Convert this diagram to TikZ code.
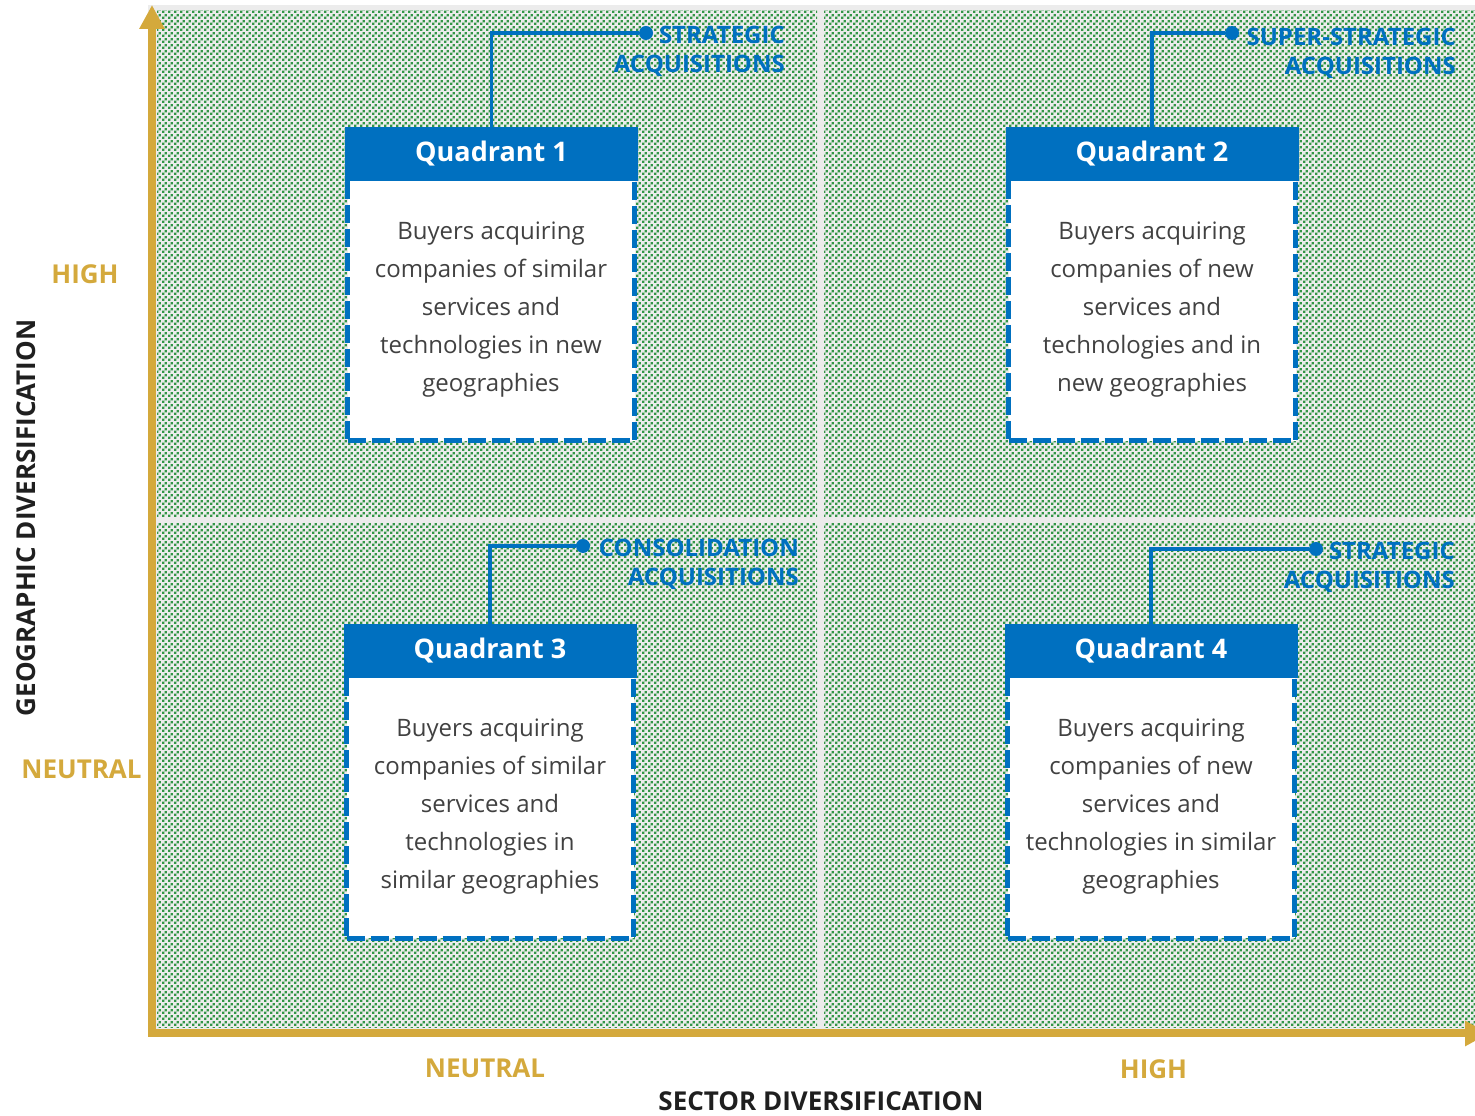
\documentclass[tikz,border=0pt]{standalone}
\usepackage{fontspec}
\setmainfont{Open Sans}
\usetikzlibrary{arrows.meta,patterns}

\definecolor{qblue}{RGB}{0,112,192}
\definecolor{qgold}{RGB}{212,169,60}
\definecolor{qgreen}{RGB}{50,150,70}
\definecolor{qgray}{RGB}{236,236,236}
\definecolor{qtext}{RGB}{65,65,65}

\pgfdeclarepatternformonly{qdots}{\pgfpointorigin}{\pgfqpoint{5.6pt}{5.6pt}}{\pgfqpoint{5.6pt}{5.6pt}}{%
  \pgfpathrectangle{\pgfpointorigin}{\pgfqpoint{2.5pt}{2.5pt}}%
  \pgfpathrectangle{\pgfqpoint{2.8pt}{2.8pt}}{\pgfqpoint{2.5pt}{2.5pt}}%
  \pgfusepath{fill}}

\tikzset{
  panel/.style={pattern=qdots, pattern color=qgreen},
  qhead/.style={fill=qblue, text=white, minimum width=293pt, minimum height=54pt,
    inner sep=0pt, outer sep=0pt, font=\fontsize{27}{32}\selectfont\bfseries},
  qbody/.style={fill=white, draw=qblue, line width=5pt, dash pattern=on 18pt off 6pt,
    minimum width=287pt, minimum height=263pt, align=center, text=qtext,
    font=\fontsize{24}{38}\selectfont},
  qlabel/.style={anchor=base east, align=right, inner sep=0pt, text=qblue,
    font=\fontsize{24}{29}\selectfont\bfseries},
  qdot/.style={circle, fill=qblue, minimum size=14pt, inner sep=0pt},
  qline/.style={draw=qblue, line width=3.5pt},
  axisline/.style={draw=qgold, line width=8pt, line join=miter,
    {Triangle[length=24pt,width=24pt]}-{Triangle[length=24pt,width=24pt]}},
  axislabel/.style={anchor=base, inner sep=0pt, text=qgold, font=\fontsize{26}{30}\selectfont\bfseries},
  axisname/.style={anchor=base, inner sep=0pt, text=black!88, font=\fontsize{26}{30}\selectfont\bfseries},
}

\begin{document}
\begin{tikzpicture}[x=1pt,y=1pt]
\useasboundingbox (0,0) rectangle (1475,1116);

% BACKGROUND
\fill[qgray] (148,86) rectangle (1480,1111);
\fill[panel] (157,599) rectangle (817,1105);
\fill[panel] (824,599) rectangle (1480,1105);
\fill[panel] (157,88) rectangle (817,593);
\fill[panel] (824,88) rectangle (1480,593);

% AXES
\coordinate (ytip) at (152,1111);
\coordinate (origin) at (152,82.5);
\coordinate (xtip) at (1489,82.5);
\draw[axisline] (ytip) -- (origin) -- (xtip);

\node[axislabel] (yhigh) at (85,832) {HIGH};
\node[axislabel] (yneutral) at (81.5,337) {NEUTRAL};
\node[axislabel] (xneutral) at (485,38) {NEUTRAL};
\node[axislabel] (xhigh) at (1153.5,37) {HIGH};
\node[axisname] (xname) at (821,5) {SECTOR DIVERSIFICATION};
\node[axisname, rotate=90] (yname) at (35,598) {GEOGRAPHIC DIVERSIFICATION};

% QUADRANT 1
\node[qbody] (q1body) at (491,806.5) {Buyers acquiring\\companies of similar\\services and\\technologies in new\\geographies};
\node[qhead] (q1head) at (491.5,962) {Quadrant 1};
\node[qdot] (q1dot) at (646,1083) {};
\draw[qline] (q1head.north) |- (q1dot);
\node[qlabel] (q1label) at (785,1043) {STRATEGIC\\ACQUISITIONS};

% QUADRANT 2
\node[qbody] (q2body) at (1152,806.5) {Buyers acquiring\\companies of new\\services and\\technologies and in\\new geographies};
\node[qhead] (q2head) at (1152,962) {Quadrant 2};
\node[qdot] (q2dot) at (1232,1083) {};
\draw[qline] (q2head.north) |- (q2dot);
\node[qlabel] (q2label) at (1456,1041) {SUPER-STRATEGIC\\ACQUISITIONS};

% QUADRANT 3
\node[qbody] (q3body) at (490,309) {Buyers acquiring\\companies of similar\\services and\\technologies in\\similar geographies};
\node[qhead] (q3head) at (490,465) {Quadrant 3};
\node[qdot] (q3dot) at (583,570) {};
\draw[qline] (q3head.north) |- (q3dot);
\node[qlabel] (q3label) at (799,530) {CONSOLIDATION\\ACQUISITIONS};

% QUADRANT 4
\node[qbody] (q4body) at (1151,309) {Buyers acquiring\\companies of new\\services and\\technologies in similar\\geographies};
\node[qhead] (q4head) at (1151,465) {Quadrant 4};
\node[qdot] (q4dot) at (1316,567) {};
\draw[qline] (q4head.north) |- (q4dot);
\node[qlabel] (q4label) at (1455,527) {STRATEGIC\\ACQUISITIONS};
\end{tikzpicture}
\end{document}
